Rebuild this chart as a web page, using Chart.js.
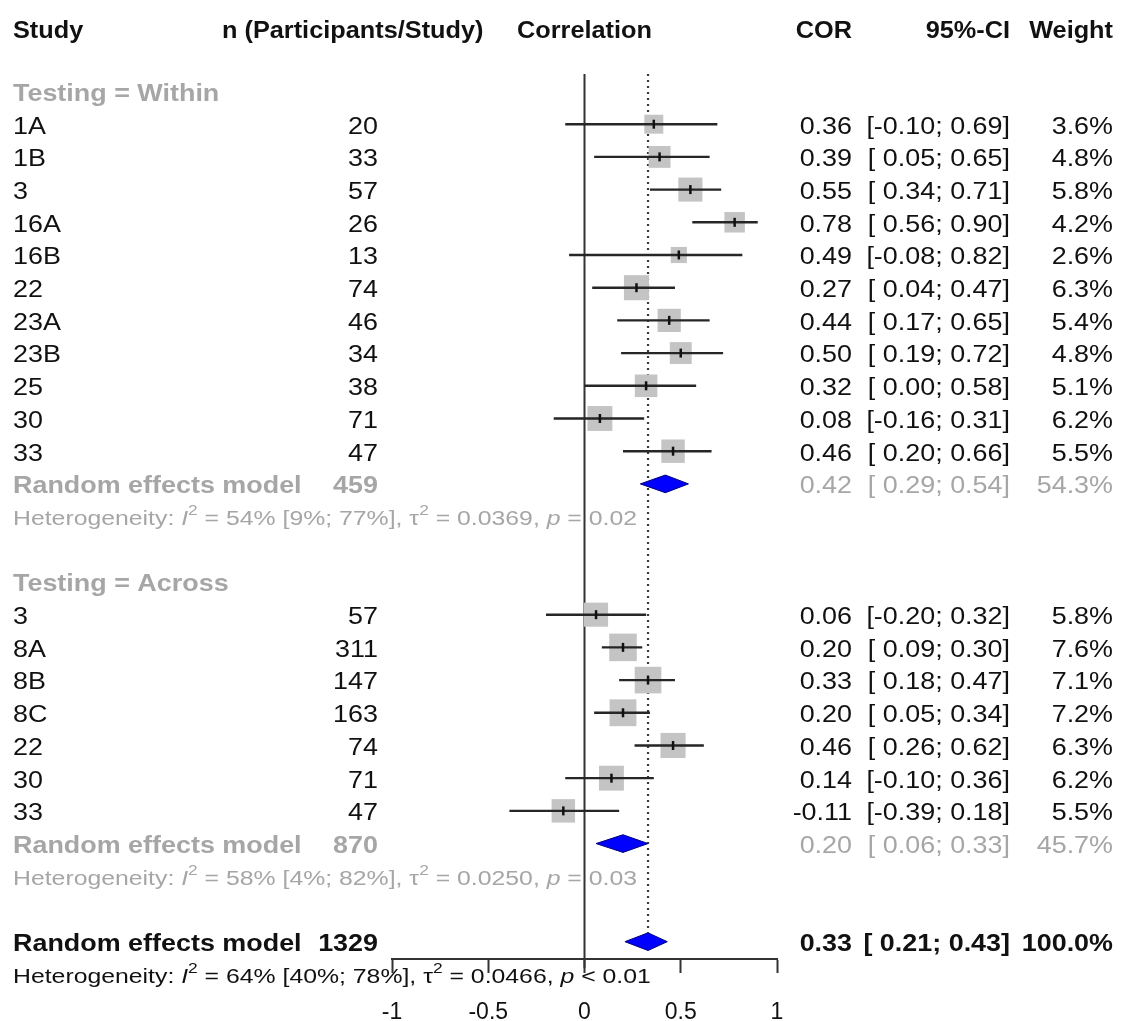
<!DOCTYPE html>
<html><head><meta charset="utf-8">
<script src="https://cdn.jsdelivr.net/npm/chart.js@4.4.1/dist/chart.umd.min.js"></script>
<style>html,body{margin:0;padding:0;background:#fff}#wrap{width:1123px;height:1021px;position:relative}</style>
</head><body><div id="wrap"><canvas id="c"></canvas></div>
<script>
// ---------- DATA ----------
const withinStudies = ['1A','1B','3','16A','16B','22','23A','23B','25','30','33'];
const withinN       = [20, 33, 57, 26, 13, 74, 46, 34, 38, 71, 47];
const withinCor     = [0.36, 0.39, 0.55, 0.78, 0.49, 0.27, 0.44, 0.50, 0.32, 0.08, 0.46];
const withinLo      = [-0.10, 0.05, 0.34, 0.56, -0.08, 0.04, 0.17, 0.19, 0.00, -0.16, 0.20];
const withinHi      = [0.69, 0.65, 0.71, 0.90, 0.82, 0.47, 0.65, 0.72, 0.58, 0.31, 0.66];
const withinWeight  = [3.6, 4.8, 5.8, 4.2, 2.6, 6.3, 5.4, 4.8, 5.1, 6.2, 5.5];

const acrossStudies = ['3','8A','8B','8C','22','30','33'];
const acrossN       = [57, 311, 147, 163, 74, 71, 47];
const acrossCor     = [0.06, 0.20, 0.33, 0.20, 0.46, 0.14, -0.11];
const acrossLo      = [-0.20, 0.09, 0.18, 0.05, 0.26, -0.10, -0.39];
const acrossHi      = [0.32, 0.30, 0.47, 0.34, 0.62, 0.36, 0.18];
const acrossWeight  = [5.8, 7.6, 7.1, 7.2, 6.3, 6.2, 5.5];

const groupLabels   = ['Testing = Within', 'Testing = Across'];
const groupN        = [459, 870];
const groupCor      = [0.42, 0.20];
const groupLo       = [0.29, 0.06];
const groupHi       = [0.54, 0.33];
const groupWeight   = [54.3, 45.7];

const overallN      = 1329;
const overallCor    = 0.33;
const overallLo     = 0.21;
const overallHi     = 0.43;
const overallWeight = 100.0;

// heterogeneity: within, across, overall
const hetI2     = ['54%', '58%', '64%'];
const hetI2CI   = ['[9%; 77%]', '[4%; 82%]', '[40%; 78%]'];
const hetTau2   = ['0.0369', '0.0250', '0.0466'];
const hetP      = ['= 0.02', '= 0.03', '< 0.01'];

const tickValues = [-1, -0.5, 0, 0.5, 1];
const tickLabels = ['-1', '-0.5', '0', '0.5', '1'];

const headers = ['Study', 'n (Participants/Study)', 'Correlation', 'COR', '95%-CI', 'Weight'];

// ---------- ROW LAYOUT (row indices) ----------
const rowWithinHead = 0;
const withinRows = withinStudies.map((_, i) => 1 + i);          // 1..11
const rowWithinRE = 12, rowWithinHet = 13;
const rowAcrossHead = 15;
const acrossRows = acrossStudies.map((_, i) => 16 + i);         // 16..22
const rowAcrossRE = 23, rowAcrossHet = 24;
const rowOverall = 26, rowOverallHet = 27;
const rowHeader = -1.83;
const Y_MIN = -0.535, Y_MAX = 26.53;

// ---------- DATASETS ----------
const allCor = withinCor.concat(acrossCor);
const allLo = withinLo.concat(acrossLo);
const allHi = withinHi.concat(acrossHi);
const allW = withinWeight.concat(acrossWeight);
const allRows = withinRows.concat(acrossRows);

const squareData = allCor.map((v, i) => ({x: v, y: allRows[i]}));
const squareRadius = allW.map(w => 10.0 * Math.sqrt(w) / Math.SQRT2);
const ciData = [];
allRows.forEach((r, i) => { ciData.push({x: allLo[i], y: r}, {x: allHi[i], y: r}, {x: null, y: null}); });

function diamond(lo, est, hi, r) {
  const h = 0.27;
  return [{x: lo, y: r}, {x: est, y: r - h}, {x: hi, y: r}, {x: est, y: r + h}, {x: lo, y: r}];
}
const diamondStyle = {type: 'line', showLine: true, fill: 'shape', backgroundColor: '#0000ff',
  borderColor: '#00007a', borderWidth: 1, pointRadius: 0, tension: 0, order: 1};

const datasets = [
  {label: 'zero', type: 'line', data: [{x: 0, y: Y_MIN}, {x: 0, y: 26.8}], showLine: true,
   borderColor: '#333', borderWidth: 2, pointRadius: 0, clip: false, order: 6},
  {label: 'overall', type: 'line', data: [{x: overallCor, y: Y_MIN}, {x: overallCor, y: rowOverall - 0.27}], showLine: true,
   borderColor: '#3a3a3a', borderWidth: 2.2, borderDash: [2, 4], pointRadius: 0, order: 5},
  {label: 'weights', type: 'scatter', data: squareData, pointStyle: 'rect', pointRadius: squareRadius,
   backgroundColor: '#c4c4c4', borderWidth: 0, order: 4},
  {label: 'ci', type: 'line', data: ciData, showLine: true, spanGaps: false, borderColor: '#262626',
   borderWidth: 2.4, pointRadius: 0, order: 3},
  {label: 'est', type: 'scatter', data: squareData, pointStyle: 'line', rotation: 90, pointRadius: 4.5,
   borderColor: '#111', borderWidth: 2.5, order: 2},
  Object.assign({label: 'reW', data: diamond(groupLo[0], groupCor[0], groupHi[0], rowWithinRE)}, diamondStyle),
  Object.assign({label: 'reA', data: diamond(groupLo[1], groupCor[1], groupHi[1], rowAcrossRE)}, diamondStyle),
  Object.assign({label: 'reO', data: diamond(overallLo, overallCor, overallHi, rowOverall)}, diamondStyle)
];

// ---------- TEXT ----------
const FF = '"Liberation Sans", Arial, sans-serif';
const SX = 1.17;
const BLACK = '#111', GRAY = '#a6a6a6';
const REG = '23px ' + FF, BOLD = 'bold 23px ' + FF;

function txt(ctx, s, x, y, align, font, color, sx) {
  ctx.save();
  ctx.font = font; ctx.fillStyle = color; ctx.textBaseline = 'middle'; ctx.textAlign = align;
  ctx.translate(x, y); ctx.scale(sx || SX, 1);
  ctx.fillText(s, 0, 0);
  ctx.restore();
}
function rich(ctx, segs, x, y, color, sx) {
  ctx.save();
  ctx.translate(x, y); ctx.scale(sx, 1);
  ctx.fillStyle = color; ctx.textBaseline = 'middle'; ctx.textAlign = 'left';
  let cx = 0;
  segs.forEach(s => { ctx.font = s.f; ctx.fillText(s.t, cx, s.dy || 0); cx += ctx.measureText(s.t).width; });
  ctx.restore();
}
function hetSegs(k) {
  const r = '20px ' + FF, it = 'italic 20px ' + FF, sup = '14px ' + FF;
  return [
    {t: 'Heterogeneity: ', f: r}, {t: 'I', f: it}, {t: '2', f: sup, dy: -8},
    {t: ' = ' + hetI2[k] + ' ' + hetI2CI[k] + ', ', f: r}, {t: '\u03c4', f: r}, {t: '2', f: sup, dy: -8},
    {t: ' = ' + hetTau2[k] + ', ', f: r}, {t: 'p', f: it}, {t: ' ' + hetP[k], f: r}
  ];
}
const f2 = v => v.toFixed(2);
const ciStr = (lo, hi) => '[' + (lo < 0 ? '' : ' ') + f2(lo) + '; ' + f2(hi) + ']';

const COL_STUDY = 13, COL_N = 378, COL_COR = 852, COL_CI = 1010, COL_W = 1113;
const DY = 3;
const HET_SX = 1.24;

const textPlugin = {
  id: 'forestText',
  afterDraw(chart) {
    const ctx = chart.ctx, ys = chart.scales.y, xs = chart.scales.x;
    const Y = r => ys.getPixelForValue(r) + DY;
    // headers
    const hy = ys.getPixelForValue(rowHeader);
    const HB = 'bold 23px ' + FF;
    txt(ctx, headers[0], COL_STUDY, hy, 'left', HB, BLACK, 1.1);
    txt(ctx, headers[1], 222, hy, 'left', HB, BLACK, 1.1);
    txt(ctx, headers[2], xs.getPixelForValue(0), hy, 'center', HB, BLACK, 1.1);
    txt(ctx, headers[3], COL_COR, hy, 'right', HB, BLACK, 1.1);
    txt(ctx, headers[4], COL_CI, hy, 'right', HB, BLACK, 1.1);
    txt(ctx, headers[5], COL_W, hy, 'right', HB, BLACK, 1.1);

    function studyRows(names, ns, cor, lo, hi, w, rows) {
      names.forEach((s, i) => {
        const y = Y(rows[i]);
        txt(ctx, s, COL_STUDY, y, 'left', REG, BLACK);
        txt(ctx, String(ns[i]), COL_N, y, 'right', REG, BLACK);
        txt(ctx, f2(cor[i]), COL_COR, y, 'right', REG, BLACK);
        txt(ctx, ciStr(lo[i], hi[i]), COL_CI, y, 'right', REG, BLACK);
        txt(ctx, w[i].toFixed(1) + '%', COL_W, y, 'right', REG, BLACK);
      });
    }
    function groupBlock(k, headRow, reRow, hetRow) {
      txt(ctx, groupLabels[k], COL_STUDY, Y(headRow), 'left', BOLD, GRAY);
      const y = Y(reRow);
      txt(ctx, 'Random effects model', COL_STUDY, y, 'left', BOLD, GRAY);
      txt(ctx, String(groupN[k]), COL_N, y, 'right', BOLD, GRAY);
      txt(ctx, f2(groupCor[k]), COL_COR, y, 'right', REG, GRAY);
      txt(ctx, ciStr(groupLo[k], groupHi[k]), COL_CI, y, 'right', REG, GRAY);
      txt(ctx, groupWeight[k].toFixed(1) + '%', COL_W, y, 'right', REG, GRAY);
      rich(ctx, hetSegs(k), COL_STUDY, Y(hetRow), GRAY, HET_SX);
    }
    studyRows(withinStudies, withinN, withinCor, withinLo, withinHi, withinWeight, withinRows);
    groupBlock(0, rowWithinHead, rowWithinRE, rowWithinHet);
    studyRows(acrossStudies, acrossN, acrossCor, acrossLo, acrossHi, acrossWeight, acrossRows);
    groupBlock(1, rowAcrossHead, rowAcrossRE, rowAcrossHet);
    const oy = Y(rowOverall);
    txt(ctx, 'Random effects model', COL_STUDY, oy, 'left', BOLD, BLACK);
    txt(ctx, String(overallN), COL_N, oy, 'right', BOLD, BLACK);
    txt(ctx, f2(overallCor), COL_COR, oy, 'right', BOLD, BLACK);
    txt(ctx, ciStr(overallLo, overallHi), COL_CI, oy, 'right', BOLD, BLACK);
    txt(ctx, overallWeight.toFixed(1) + '%', COL_W, oy, 'right', BOLD, BLACK);
    rich(ctx, hetSegs(2), COL_STUDY, Y(rowOverallHet), BLACK, HET_SX);
  }
};

new Chart(document.getElementById('c'), {
  type: 'scatter',
  data: {datasets},
  options: {
    responsive: true, maintainAspectRatio: false, animation: false, events: [],
    layout: {padding: {top: 74, left: 392, right: 346, bottom: -31}},
    plugins: {legend: {display: false}, tooltip: {enabled: false}},
    scales: {
      x: {type: 'linear', min: -1, max: 1, position: 'bottom',
          afterBuildTicks: s => { s.ticks = tickValues.map(v => ({value: v})); },
          ticks: {callback: (v) => tickLabels[tickValues.indexOf(v)], color: BLACK, padding: 28,
                  font: {family: FF, size: 23, lineHeight: 1.0}, maxRotation: 0, autoSkip: false},
          grid: {display: true, drawOnChartArea: false, drawTicks: true, tickLength: 14, tickWidth: 2, tickColor: '#333'},
          border: {display: true, color: '#333', width: 2}},
      y: {type: 'linear', reverse: true, min: Y_MIN, max: Y_MAX, display: false}
    }
  },
  plugins: [textPlugin]
});
</script>
</body></html>
